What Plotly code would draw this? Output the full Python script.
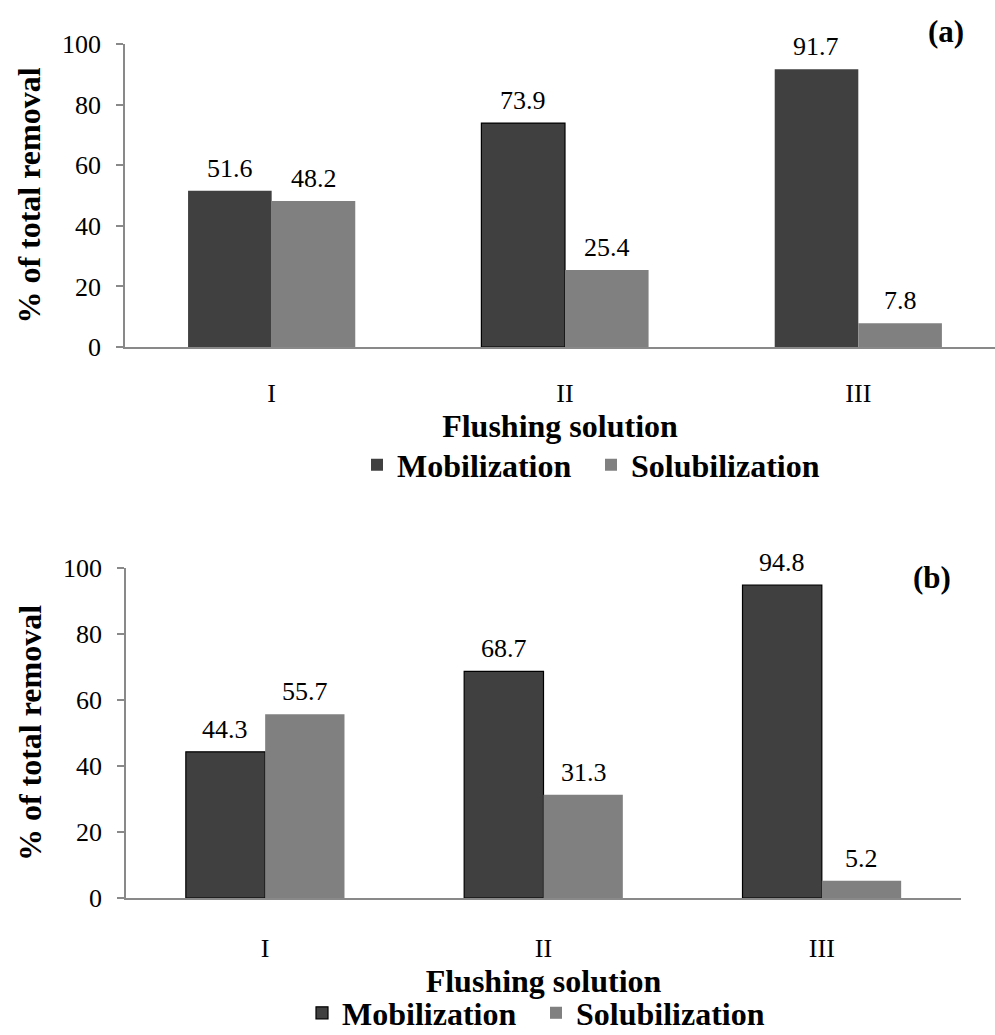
import plotly.graph_objects as go

# Flushing solutions on the category axis
solutions = ["I", "II", "III"]

# Panel (a): share of total removal, %
mob_a = [51.6, 73.9, 91.7]
sol_a = [48.2, 25.4, 7.8]

# Panel (b): share of total removal, %
mob_b = [44.3, 68.7, 94.8]
sol_b = [55.7, 31.3, 5.2]

y_ticks = [0, 20, 40, 60, 80, 100]

DARK = "#404040"
GREY = "#808080"
AXIS = "#898989"
SERIF = "Times New Roman, Liberation Serif, DejaVu Serif, serif"

W, H = 995, 1035

fig = go.Figure()

# top panel: only the middle mobilization bar carries a black outline
fig.add_trace(go.Bar(
    x=solutions, y=mob_a, name="Mobilization",
    marker=dict(color=DARK, line=dict(color="black", width=[0, 1.2, 0])),
    xaxis="x", yaxis="y", legend="legend",
))
fig.add_trace(go.Bar(
    x=solutions, y=sol_a, name="Solubilization",
    marker=dict(color=GREY, line=dict(width=0)),
    xaxis="x", yaxis="y", legend="legend",
))

# bottom panel: all mobilization bars outlined
fig.add_trace(go.Bar(
    x=solutions, y=mob_b, name="Mobilization",
    marker=dict(color=DARK, line=dict(color="black", width=1.2)),
    xaxis="x2", yaxis="y2", legend="legend2",
))
fig.add_trace(go.Bar(
    x=solutions, y=sol_b, name="Solubilization",
    marker=dict(color=GREY, line=dict(width=0)),
    xaxis="x2", yaxis="y2", legend="legend2",
))

# value labels above each bar
annotations = []
for xa, ya, series, shift in [
    ("x", "y", mob_a, -42), ("x", "y", sol_a, 42),
    ("x2", "y2", mob_b, -40), ("x2", "y2", sol_b, 40),
]:
    for cat, val in zip(solutions, series):
        annotations.append(dict(
            x=cat, y=val, xref=xa, yref=ya, text=f"{val:.1f}",
            showarrow=False, xshift=shift, yanchor="bottom", yshift=6,
            font=dict(family=SERIF, size=26, color="black"),
        ))

# panel letters
annotations.append(dict(
    x=946 / W, y=1 - 31 / H, xref="paper", yref="paper", text="(a)",
    showarrow=False, xanchor="center", yanchor="middle",
    font=dict(family=SERIF, size=31, color="black", weight="bold"),
))
annotations.append(dict(
    x=932 / W, y=1 - 577 / H, xref="paper", yref="paper", text="(b)",
    showarrow=False, xanchor="center", yanchor="middle",
    font=dict(family=SERIF, size=31, color="black", weight="bold"),
))

tick_font = dict(family=SERIF, size=26, color="black")
title_font = dict(family=SERIF, size=32, color="black", weight="bold")


def x_axis(domain, rng, anchor, label_gap, title_gap):
    return dict(
        domain=domain, range=rng, anchor=anchor,
        type="category", showline=True, linecolor=AXIS, linewidth=1.5,
        ticks="", showgrid=False, zeroline=False, tickfont=tick_font,
        ticklabelstandoff=label_gap, automargin=False,
        title=dict(text="Flushing solution", font=title_font,
                   standoff=title_gap),
    )


def y_axis(domain, anchor):
    return dict(
        domain=domain, anchor=anchor,
        range=[0, 100], tickvals=y_ticks, showline=True, linecolor=AXIS,
        linewidth=1.5, ticks="outside", ticklen=7, tickcolor=AXIS,
        tickwidth=1.5, showgrid=False, zeroline=False, tickfont=tick_font,
        ticklabelstandoff=10, automargin=False,
        title=dict(text="% of total removal", font=title_font, standoff=12),
    )


legend_common = dict(
    orientation="h", xanchor="center", yanchor="middle",
    font=dict(family=SERIF, size=32, color="black", weight="bold"),
    bgcolor="rgba(0,0,0,0)", entrywidth=189, traceorder="normal",
)

fig.update_layout(
    width=W, height=H,
    margin=dict(l=0, r=0, t=0, b=0, autoexpand=False),
    paper_bgcolor="white", plot_bgcolor="white",
    font=dict(family=SERIF, color="black"),
    barmode="group", bargap=0.43, bargroupgap=0,
    xaxis=x_axis([125 / W, 1.0], [-0.5, 2.466], "y", 22, 7),
    yaxis=y_axis([1 - 347 / H, 1 - 44 / H], "x"),
    xaxis2=x_axis([126 / W, 961 / W], [-0.5, 2.5], "y2", 26, 8),
    yaxis2=y_axis([1 - 898 / H, 1 - 568 / H], "x2"),
    legend=dict(x=591 / W, y=1 - 465 / H, **legend_common),
    legend2=dict(x=536 / W, y=1 - 1013 / H, **legend_common),
    annotations=annotations,
    showlegend=True,
)

fig.write_html("out.html")
